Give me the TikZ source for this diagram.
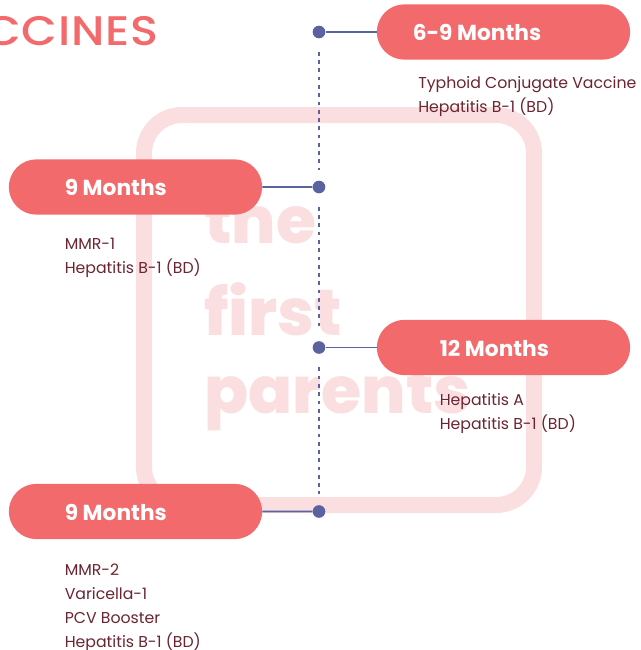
\documentclass[tikz,border=0pt]{standalone}
\usepackage{fontspec}
\setmainfont{Poppins}
\newfontfamily\titlefont[FakeStretch=1.12,LetterSpace=2]{Poppins Medium}
\newfontfamily\heavyfont{Poppins ExtraBold}
\usetikzlibrary{shapes.misc}
\definecolor{coral}{HTML}{F36A6C}
\definecolor{indigo}{HTML}{5A62A0}
\definecolor{blush}{HTML}{FBDEE0}
\definecolor{wine}{HTML}{6B2430}
\tikzset{
 pill/.style={rounded rectangle, fill=coral, minimum width=190pt, minimum height=41.5pt, inner sep=0},
 pilltext/.style={anchor=west, text=white, font=\bfseries\fontsize{16.3}{18}\selectfont, inner sep=0},
 dot/.style={circle, fill=indigo, minimum size=9.5pt, inner sep=0},
 stem/.style={indigo, line width=1.4pt},
 spine/.style={indigo, line width=1.7pt, dash pattern=on 2.8pt off 3.4pt, shorten <=10pt, shorten >=8pt},
 vaccines/.style={anchor=north west, text=wine, align=left, inner sep=0, font=\fontsize{11.8}{18}\selectfont},
 mark text/.style={anchor=base west, text=blush, inner sep=0, font=\heavyfont\fontsize{48.7}{50}\selectfont}
}
\begin{document}
\begin{tikzpicture}[x=.75pt, y=-.75pt]
\useasboundingbox (0,0) rectangle (640,650);
\clip (0,0) rectangle (640,650);
\draw[blush, line width=12pt, rounded corners=28.5pt] (144,115) rectangle (534,505);
\node[mark text] (the) at (204,243) {the};
\node[mark text] (first) at (204,335) {first};
\node[mark text] (parents) at (204,413) {parents};
\node[anchor=base west, text=coral, inner sep=0, font=\titlefont\fontsize{31}{36}\selectfont] (title) at (-15,45) {CCINES};
\foreach \name/\y/\x in {a/32/503.5, b/187/135.5, c/347.5/503.5, d/511.5/135.5} {
 \node[pill] (p\name) at (\x,\y) {};
 \node[dot] (d\name) at (319,\y) {};
 \draw[stem] (d\name) -- (p\name);
}
\draw[spine] (da) -- (db);
\draw[spine] (db) -- (dc);
\draw[spine] (dc) -- (dd);
\node[pilltext] (ta) at (412.5,32) {6-9 Months};
\node[pilltext] (tb) at (64.5,187) {9 Months};
\node[pilltext] (tc) at (439.5,348) {12 Months};
\node[pilltext] (td) at (64.5,512) {9 Months};
\node[vaccines] (va) at (418,76.5) {Typhoid Conjugate Vaccine\\Hepatitis B-1 (BD)};
\node[vaccines] (vb) at (64.5,237.5) {MMR-1\\Hepatitis B-1 (BD)};
\node[vaccines] (vc) at (439.5,393.5) {Hepatitis A\\Hepatitis B-1 (BD)};
\node[vaccines] (vd) at (64.5,563.5) {MMR-2\\Varicella-1\\PCV Booster\\Hepatitis B-1 (BD)};
\end{tikzpicture}
\end{document}
